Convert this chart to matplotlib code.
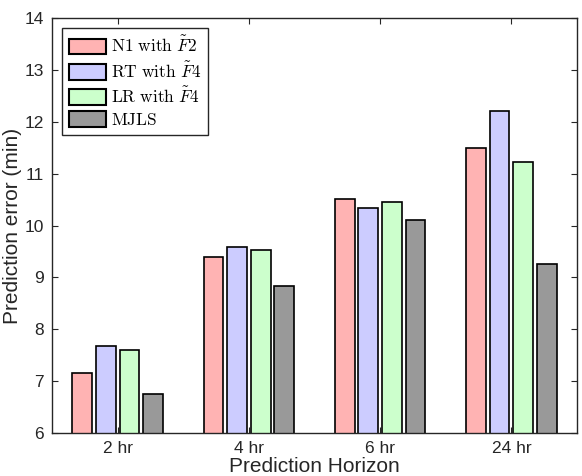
import matplotlib
matplotlib.use("Agg")
import matplotlib.pyplot as plt
import numpy as np

categories = ["2 hr", "4 hr", "6 hr", "24 hr"]
series_names = [r"$\mathrm{N1\ with\ }\tilde{F}2$",
                r"$\mathrm{RT\ with\ }\tilde{F}4$",
                r"$\mathrm{LR\ with\ }\tilde{F}4$",
                r"$\mathrm{MJLS}$"]
n1 = [7.16, 9.40, 10.52, 11.49]
rt = [7.68, 9.59, 10.33, 12.20]
lr = [7.60, 9.52, 10.46, 11.22]
mjls = [6.75, 8.84, 10.10, 9.25]
colors = ["#FFB3B3", "#CCCCFF", "#CCFFCC", "#999999"]

plt.rcParams['mathtext.fontset'] = 'cm'
plt.rcParams['font.family'] = ['Liberation Sans', 'DejaVu Sans']

fig = plt.figure(figsize=(5.82, 4.76), dpi=100)
ax = fig.add_axes([52/582, 1 - 433/476, (577-52)/582, (433-18)/476])

x = np.arange(1, len(categories) + 1)
width = 0.15
step = 0.18
offsets = [-1.5*step, -0.5*step, 0.5*step, 1.5*step]
for vals, name, c, off in zip([n1, rt, lr, mjls], series_names, colors, offsets):
    ax.bar(x + off, vals, width, color=c, edgecolor='black', linewidth=1.2, label=name)

ax.set_xlim(0.5, 4.5)
ax.set_ylim(6, 14)
ax.set_xticks(x)
ax.set_xticklabels(categories)
ax.set_yticks(np.arange(6, 15, 1))
ax.tick_params(direction='in', top=True, right=True, labelsize=12.5, colors='#262626', length=4)
ax.tick_params(axis='x', pad=6)
ax.tick_params(axis='y', pad=6)
for s in ax.spines.values():
    s.set_color('#262626')
    s.set_linewidth(1.0)
ax.set_ylabel("Prediction error (min)", fontsize=15, color='#262626', labelpad=2)
ax.set_xlabel("Prediction Horizon", fontsize=15, color='#262626', labelpad=0.5)

leg = ax.legend(loc='upper left', fontsize=12.5, handlelength=2.1, handleheight=1.0,
                borderaxespad=0.6, fancybox=False, framealpha=1, edgecolor='#262626',
                labelspacing=0.3, handletextpad=0.3, borderpad=0.4)
leg.get_frame().set_linewidth(1.0)
for h in leg.legend_handles:
    h.set_linewidth(1.5)

fig.savefig("out.png", dpi=100)
